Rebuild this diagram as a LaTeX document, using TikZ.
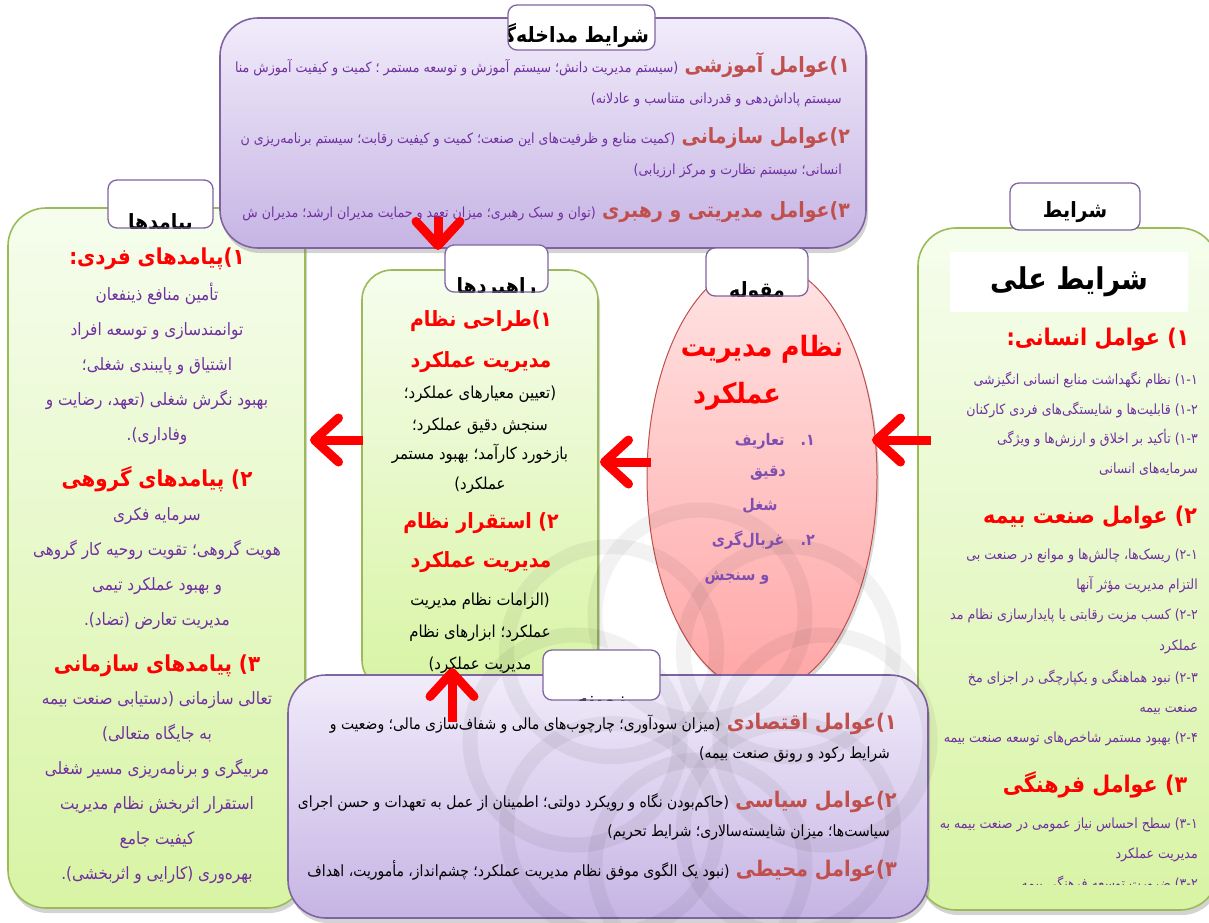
\documentclass[tikz,border=0pt]{standalone}
\usepackage{fontspec}
\usetikzlibrary{shapes.geometric,shadows,arrows.meta}
\TeXXeTstate=1
\newfontfamily\fa[Script=Arabic,FakeStretch=0.9]{DejaVu Sans}
\newcommand\fsz[1]{\fontsize{#1}{#1}\selectfont}
\newcommand\fatx[1]{\beginR#1\endR}
\definecolor{lavtop}{HTML}{F1ECFA}
\definecolor{lavbot}{HTML}{C6B4E4}
\definecolor{lavline}{HTML}{8064A2}
\definecolor{greentop}{HTML}{F6FDEE}
\definecolor{greenbot}{HTML}{D8F4A4}
\definecolor{greenline}{HTML}{9BBB59}
\definecolor{pinktop}{HTML}{FFE4E4}
\definecolor{pinkbot}{HTML}{FFA6A6}
\definecolor{pinkline}{HTML}{C0504D}
\definecolor{headbrown}{HTML}{C0504D}
\definecolor{txtpurple}{HTML}{7030A0}
\definecolor{listpurple}{HTML}{8050B0}
\tikzset{
  panel/.style={rounded corners=38pt, line width=1.6pt,
    drop shadow={shadow xshift=2pt, shadow yshift=-5pt, opacity=.35}},
  purplepanel/.style={panel, draw=lavline, top color=lavtop, bottom color=lavbot},
  greenpanel/.style={panel, draw=greenline, top color=greentop, bottom color=greenbot},
  tabbox/.style={draw=lavline, fill=white, rounded corners=9pt, line width=1.3pt},
  tabtext/.style={inner sep=0pt, font=\fa\bfseries\fsz{21}, text=black},
  redhead/.style={inner sep=0pt, font=\fa\bfseries\fsz{22}, text=red},
  brownhead/.style={inner sep=0pt, font=\fa\bfseries\fsz{21}, text=headbrown},
  purpleline/.style={inner sep=0pt, font=\fa\fsz{14}, text=txtpurple},
  blackline/.style={inner sep=0pt, font=\fa\fsz{15.5}, text=black},
  listline/.style={inner sep=0pt, font=\fa\bfseries\fsz{16}, text=listpurple},
  bigarrow/.style={draw=red, line width=9pt, -{Straight Barb[length=24pt,width=44pt,round]}},
  wmark/.style={draw=black, opacity=.05, line width=15pt},
}
\begin{document}
\begin{tikzpicture}[x=1pt, y=-1pt]
\useasboundingbox (0,0) rectangle (1209,922);
% panels
\node[greenpanel, minimum width=297pt, minimum height=700pt] (outcomes) at (156.5,558) {};
\node[greenpanel, minimum width=300pt, minimum height=682pt] (causal) at (1068,569) {};
\node[greenpanel, rounded corners=30pt, minimum width=236pt, minimum height=420pt] (strategies) at (480,480) {};
\node[ellipse, draw=pinkline, line width=1pt, top color=pinktop, bottom color=pinkbot,
  minimum width=230pt, minimum height=430pt,
  drop shadow={shadow xshift=2pt, shadow yshift=-4pt, opacity=.3}] (core) at (762,477) {};
\node[purplepanel, minimum width=646pt, minimum height=230pt] (intervening) at (543,133) {};
\node[purplepanel, minimum width=640pt, minimum height=243pt] (context) at (608,796.5) {};
% watermark
\foreach \a in {0,45,...,315}
  \draw[wmark] (700,740) ++(\a:125) circle[radius=105];
% tabs
\node[tabbox, minimum width=147pt, minimum height=45pt,
  path picture={\node[tabtext, anchor=base east] at ([xshift=68pt,yshift=-15pt]path picture bounding box.center) {\beginR شرایط مداخله‌گر\endR};}] (intertab) at (581.5,27.5) {};
\node[tabbox, minimum width=105pt, minimum height=48pt,
  path picture={\node[tabtext] at ([yshift=-20pt]path picture bounding box.center) {\beginR پیامدها\endR};}] (outtab) at (160.5,204) {};
\node[tabbox, minimum width=103pt, minimum height=47pt,
  path picture={\node[tabtext] at ([yshift=-20pt]path picture bounding box.center) {\beginR راهبردها\endR};}] (stratab) at (496.5,268.5) {};
\node[tabbox, minimum width=102pt, minimum height=48pt,
  path picture={\node[tabtext] at ([yshift=-20pt]path picture bounding box.center) {\beginR مقوله\endR};}] (coretab) at (757,272) {};
\node[tabbox, minimum width=130pt, minimum height=47pt,
  path picture={\node[tabtext] at ([yshift=-6pt]path picture bounding box.center) {\beginR شرایط\endR};}] (causaltab) at (1075,206.5) {};
\node[tabbox, minimum width=117pt, minimum height=50pt,
  path picture={\node[tabtext] at ([yshift=-29pt]path picture bounding box.center) {\beginR زمینه\endR};}] (contab) at (601.5,675) {};
% intervening conditions
\begin{scope}
\clip (228,20) rectangle (862,246);
\node[brownhead, anchor=base east] (interha) at (850,72) {\fatx{۱)عوامل آموزشی}};
\node[purpleline, anchor=base east] (intera) at ([xshift=-6pt]interha.base west) {\fatx{(سیستم مدیریت دانش؛ سیستم آموزش و توسعه مستمر ؛ کمیت و کیفیت آموزش منا}};
\node[purpleline, anchor=base east] (interb) at (842,103) {\fatx{سیستم پاداش‌دهی و قدردانی متناسب و عادلانه)}};
\node[brownhead, anchor=base east] (interhb) at (850,143) {\fatx{۲)عوامل سازمانی}};
\node[purpleline, anchor=base east] (interc) at ([xshift=-6pt]interhb.base west) {\fatx{(کمیت منابع و ظرفیت‌های این صنعت؛ کمیت و کیفیت رقابت؛ سیستم برنامه‌ریزی ن}};
\node[purpleline, anchor=base east] (interd) at (842,174) {\fatx{انسانی؛ سیستم نظارت و مرکز ارزیابی)}};
\node[brownhead, anchor=base east] (interhc) at (850,217) {\fatx{۳)عوامل مدیریتی و رهبری}};
\node[purpleline, anchor=base east] (intere) at ([xshift=-6pt]interhc.base west) {\fatx{(توان و سبک رهبری؛ میزان تعهد و حمایت مدیران ارشد؛ مدیران ش}};
\end{scope}
% outcomes
\node[redhead, anchor=base] (outha) at (157,264) {\fatx{۱)پیامدهای فردی:}};
\foreach \t [count=\i] in {تأمین منافع ذینفعان, توانمندسازی و توسعه افراد, اشتیاق و پایبندی شغلی؛,
  بهبود نگرش شغلی (تعهد، رضایت و, وفاداری).}
  \node[purpleline, font=\fa\fsz{17}, anchor=base] (outa\i) at (157,266+34.8*\i) {\fatx{\t}};
\node[redhead, anchor=base] (outhb) at (157,486) {\fatx{۲) پیامدهای گروهی}};
\foreach \t [count=\i] in {سرمایه فکری, هویت گروهی؛ تقویت روحیه کار گروهی, و بهبود عملکرد تیمی, مدیریت تعارض (تضاد).}
  \node[purpleline, font=\fa\fsz{17}, anchor=base] (outb\i) at (157,485+35*\i) {\fatx{\t}};
\node[redhead, anchor=base] (outhc) at (157,671) {\fatx{۳) پیامدهای سازمانی}};
\foreach \t [count=\i] in {تعالی سازمانی (دستیابی صنعت بیمه, به جایگاه متعالی), مربیگری و برنامه‌ریزی مسیر شغلی,
  استقرار اثربخش نظام مدیریت, کیفیت جامع, بهره‌وری (کارایی و اثربخشی).}
  \node[purpleline, font=\fa\fsz{17}, anchor=base] (outc\i) at (157,669+35*\i) {\fatx{\t}};
% strategies
\node[redhead, anchor=base, font=\fa\bfseries\fsz{21}] (strha) at (481,326) {\fatx{۱)طراحی نظام}};
\node[redhead, anchor=base, font=\fa\bfseries\fsz{21}] (strhb) at (481,367) {\fatx{مدیریت عملکرد}};
\node[blackline, anchor=base, font=\fa\fsz{16.5}] (stra1) at (480,398) {\fatx{(تعیین معیارهای عملکرد؛}};
\node[blackline, anchor=base, font=\fa\fsz{16.5}] (stra2) at (480,430) {\fatx{سنجش دقیق عملکرد؛}};
\node[blackline, anchor=base, font=\fa\fsz{16.5}] (stra3) at (480,459) {\fatx{بازخورد کارآمد؛ بهبود مستمر}};
\node[blackline, anchor=base, font=\fa\fsz{16.5}] (stra4) at (480,489) {\fatx{عملکرد)}};
\node[redhead, anchor=base, font=\fa\bfseries\fsz{21}] (strhc) at (481,528) {\fatx{۲) استقرار نظام}};
\node[redhead, anchor=base, font=\fa\bfseries\fsz{21}] (strhd) at (481,567) {\fatx{مدیریت عملکرد}};
\node[blackline, anchor=base, font=\fa\fsz{16.5}] (strb1) at (480,605) {\fatx{(الزامات نظام مدیریت}};
\node[blackline, anchor=base, font=\fa\fsz{16.5}] (strb2) at (480,637) {\fatx{عملکرد؛ ابزارهای نظام}};
\node[blackline, anchor=base, font=\fa\fsz{16.5}] (strb3) at (480,669) {\fatx{مدیریت عملکرد)}};
% core category
\node[redhead, anchor=base, font=\fa\bfseries\fsz{28}] (coreha) at (762,356) {\fatx{نظام مدیریت}};
\node[redhead, anchor=base, font=\fa\bfseries\fsz{28}] (corehb) at (737,403) {\fatx{عملکرد}};
\node[listline, anchor=base east] (corea) at (815,445) {\fatx{۱.\quad تعاریف}};
\node[listline, anchor=base] (coreb) at (768,476) {\fatx{دقیق}};
\node[listline, anchor=base] (corec) at (760,510) {\fatx{شغل}};
\node[listline, anchor=base east] (cored) at (815,545) {\fatx{۲.\quad غربال‌گری}};
\node[listline, anchor=base] (coree) at (737,580) {\fatx{و سنجش}};
% causal conditions
\node[fill=white, minimum width=238pt, minimum height=60pt, font=\fa\bfseries\fsz{30}] (causaltitle) at (1069,282) {\fatx{شرایط علی}};
\node[redhead, anchor=base, font=\fa\bfseries\fsz{23}] (cauha) at (1098,345) {\fatx{۱) عوامل انسانی:}};
\node[redhead, anchor=base, font=\fa\bfseries\fsz{23}] (cauhb) at (1090,523) {\fatx{۲) عوامل صنعت بیمه}};
\node[redhead, anchor=base, font=\fa\bfseries\fsz{23}] (cauhc) at (1095,792) {\fatx{۳) عوامل فرهنگی}};
\begin{scope}
\clip (935,230) rectangle (1209,884);
\foreach \t/\yy [count=\i] in {۱-۱) نظام نگهداشت منابع انسانی انگیزشی/384, ۱-۲) قابلیت‌ها و شایستگی‌های فردی کارکنان/414,
  ۱-۳) تأکید بر اخلاق و ارزش‌ها و ویژگی/443, سرمایه‌های انسانی/473,
  ۲-۱) ریسک‌ها، چالش‌ها و موانع در صنعت بی/559, التزام مدیریت مؤثر آنها/589,
  ۲-۲) کسب مزیت رقابتی یا پایدارسازی نظام مد/619, عملکرد/650,
  ۲-۳) نبود هماهنگی و یکپارچگی در اجزای مخ/682, صنعت بیمه/712,
  ۲-۴) بهبود مستمر شاخص‌های توسعه صنعت بیمه/742,
  ۳-۱) سطح احساس نیاز عمومی در صنعت بیمه به/828, مدیریت عملکرد/858,
  ۳-۲) ضرورت توسعه فرهنگی بیمه/888}
  \node[purpleline, anchor=base east] (caul\i) at (1198,\yy) {\fatx{\t}};
\end{scope}
% context
\begin{scope}
\clip (296,680) rectangle (924,903);
\node[brownhead, anchor=base east, font=\fa\bfseries\fsz{21.5}] (conha) at (897,729) {\fatx{۱)عوامل اقتصادی}};
\node[blackline, anchor=base east] (cona) at ([xshift=-6pt]conha.base west) {\fatx{(میزان سودآوری؛ چارچوب‌های مالی و شفاف‌سازی مالی؛ وضعیت و}};
\node[blackline, anchor=base east] (conb) at (890,758) {\fatx{شرایط رکود و رونق صنعت بیمه)}};
\node[brownhead, anchor=base east, font=\fa\bfseries\fsz{21.5}] (conhb) at (897,807) {\fatx{۲)عوامل سیاسی}};
\node[blackline, anchor=base east] (conc) at ([xshift=-6pt]conhb.base west) {\fatx{(حاکم‌بودن نگاه و رویکرد دولتی؛ اطمینان از عمل به تعهدات و حسن اجرای}};
\node[blackline, anchor=base east] (cond) at (890,836) {\fatx{سیاست‌ها؛ میزان شایسته‌سالاری؛ شرایط تحریم)}};
\node[brownhead, anchor=base east, font=\fa\bfseries\fsz{21.5}] (conhc) at (897,876) {\fatx{۳)عوامل محیطی}};
\node[blackline, anchor=base east] (cone) at ([xshift=-6pt]conhc.base west) {\fatx{(نبود یک الگوی موفق نظام مدیریت عملکرد؛ چشم‌انداز، مأموریت، اهداف}};
\end{scope}
% arrows
\coordinate (causalout) at (931,440);
\coordinate (corein) at (872,440);
\coordinate (coreout) at (651,462);
\coordinate (strain) at (600,462);
\coordinate (straout) at (363,440);
\coordinate (outin) at (310,440);
\coordinate (interout) at (438,217);
\coordinate (strtop) at (438,250);
\coordinate (conout) at (452,722);
\coordinate (strbot) at (452,668);
\draw[bigarrow] (causalout) -- (corein);
\draw[bigarrow] (coreout) -- (strain);
\draw[bigarrow] (straout) -- (outin);
\draw[bigarrow] (interout) -- (strtop);
\draw[bigarrow] (conout) -- (strbot);
\end{tikzpicture}
\end{document}
